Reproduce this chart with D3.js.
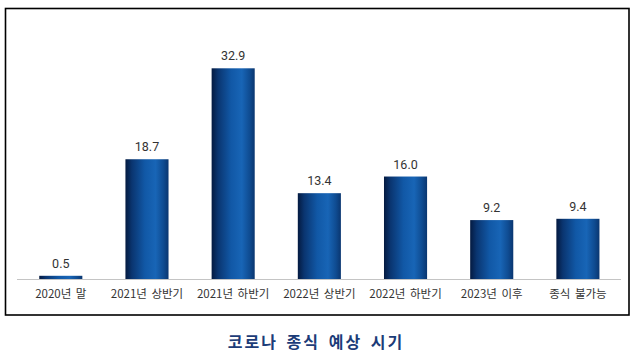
<!DOCTYPE html>
<html><head><meta charset="utf-8">
<script src="https://cdn.jsdelivr.net/npm/d3@7"></script>
<style>body{margin:0;background:#fff;}svg{display:block;}</style>
</head><body>
<script>
const categories = ["2020년 말","2021년 상반기","2021년 하반기","2022년 상반기","2022년 하반기","2023년 이후","종식 불가능"];
const values = [0.5,18.7,32.9,13.4,16.0,9.2,9.4];
const title = "코로나 종식 예상 시기";

const W=639,H=357;
const svg=d3.select("body").append("svg").attr("width",W).attr("height",H);
const defs=svg.append("defs");
const g=defs.append("linearGradient").attr("id","bg").attr("x1","0").attr("x2","1").attr("y1","0").attr("y2","0");
[[0,"#041a40"],[0.15,"#0a3570"],[0.45,"#1158a6"],[0.7,"#1865b6"],[0.88,"#0f4c92"],[1,"#0a3670"]].forEach(([o,c])=>g.append("stop").attr("offset",o).attr("stop-color",c));

svg.append("rect").attr("x",5.5).attr("y",8.5).attr("width",623.5).attr("height",306.5).attr("fill","none").attr("stroke","#000").attr("stroke-width",1.6);

const x=d3.scaleBand().domain(categories).range([17.7,621]).paddingInner(0.5).paddingOuter(0.25);
const y=d3.scaleLinear().domain([0,32.9]).range([279,68.3]);

svg.selectAll("rect.bar").data(values).enter().append("rect").attr("class","bar")
 .attr("x",(d,i)=>x(categories[i])).attr("width",x.bandwidth())
 .attr("y",d=>y(d)).attr("height",d=>y(0)-y(d)).attr("fill","url(#bg)");

svg.append("line").attr("x1",17).attr("x2",621).attr("y1",279.5).attr("y2",279.5).attr("stroke","#c4c4c4").attr("stroke-width",1.2);

svg.selectAll("text.val").data(values).enter().append("text").attr("class","val")
 .attr("x",(d,i)=>x(categories[i])+x.bandwidth()/2).attr("y",d=>y(d)-8)
 .attr("text-anchor","middle").attr("font-family","Roboto, 'Noto Sans', sans-serif").attr("font-size",12.5).attr("fill","#333")
 .text(d=>d.toFixed(1));

svg.selectAll("text.cat").data(categories).enter().append("text").attr("class","cat")
 .attr("x",d=>x(d)+x.bandwidth()/2).attr("y",297.5)
 .attr("text-anchor","middle").attr("font-family","'Noto Sans CJK KR', sans-serif").attr("font-size",11.5).attr("fill","#333").attr("word-spacing",2)
 .text(d=>d);

svg.append("text").attr("x",316).attr("y",348).attr("text-anchor","middle")
 .attr("font-family","'Noto Sans CJK KR', sans-serif").attr("font-weight","bold").attr("font-size",16).attr("fill","#1c3c78").attr("letter-spacing",2).attr("word-spacing",3)
 .text(title);
</script>
</body></html>
